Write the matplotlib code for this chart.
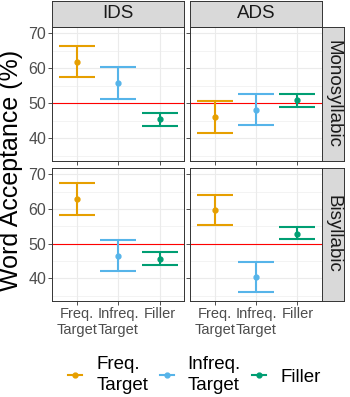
import matplotlib
matplotlib.use("Agg")
import matplotlib.pyplot as plt
from matplotlib.lines import Line2D
from matplotlib.patches import Rectangle
from matplotlib.ticker import MultipleLocator

plt.rcParams["font.family"] = ["Liberation Sans", "DejaVu Sans"]

# ---------------------------------------------------------------- data
conditions = ["Freq.\nTarget", "Infreq.\nTarget", "Filler"]
legend_labels = ["Freq.\nTarget", "Infreq.\nTarget", "Filler"]
speech = ["IDS", "ADS"]
syllables = ["Monosyllabic", "Bisyllabic"]

# [row = syllables][col = speech][condition]
means = [
    [[61.9, 55.7, 45.4], [46.1, 48.1, 51.0]],
    [[63.0, 46.5, 45.6], [59.7, 40.3, 52.9]],
]
lower = [
    [[57.4, 51.1, 43.5], [41.5, 43.7, 49.0]],
    [[58.3, 42.1, 43.8], [55.4, 36.0, 51.2]],
]
upper = [
    [[66.5, 60.5, 47.3], [50.6, 52.6, 52.8]],
    [[67.4, 51.1, 47.6], [64.0, 44.8, 54.8]],
]
chance = 50

COLORS = ["#E69F00", "#56B4E9", "#009E73"]
GRID = "#EBEBEB"
BORDER = "#333333"
STRIP = "#D9D9D9"

W, H = 350, 397


def rect(x0, y0, x1, y1):
    """pixel box (top-left origin) -> figure fraction"""
    return [x0 / W, 1 - y1 / H, (x1 - x0) / W, (y1 - y0) / H]


def strip_box(box, label, rot):
    sa = fig.add_axes(rect(*box))
    sa.add_patch(Rectangle((0, 0), 1, 1, facecolor=STRIP,
                           edgecolor="none", transform=sa.transAxes))
    sa.set_xticks([])
    sa.set_yticks([])
    for s in sa.spines.values():
        s.set_color(BORDER)
        s.set_linewidth(0.7)
    sa.text(0.5, 0.5, label, ha="center", va="center", rotation=rot,
            fontsize=13.5, color="#1A1A1A", transform=sa.transAxes)


fig = plt.figure(figsize=(W / 100, H / 100), dpi=100)

cols_px = [(52.3, 184.3), (190.0, 322.3)]
rows_px = [(26.7, 161.0), (167.7, 300.7)]

for r, (y0, y1) in enumerate(rows_px):
    for c, (x0, x1) in enumerate(cols_px):
        ax = fig.add_axes(rect(x0, y0, x1, y1))
        ax.set_xlim(0.4, 3.6)
        ax.set_ylim(33.5, 71.9)
        ax.yaxis.set_major_locator(MultipleLocator(10))
        ax.yaxis.set_minor_locator(MultipleLocator(5))
        ax.set_xticks([1, 2, 3])
        ax.grid(True, which="major", color=GRID, lw=0.8, zorder=0)
        ax.grid(True, which="minor", axis="y", color=GRID, lw=0.4, zorder=0)
        ax.set_axisbelow(True)
        for s in ax.spines.values():
            s.set_color(BORDER)
            s.set_linewidth(0.7)
        ax.tick_params(which="major", length=3, width=0.6, color=BORDER,
                       labelcolor="#4D4D4D", pad=1.5)
        ax.tick_params(which="minor", length=0)
        ax.tick_params(axis="y", labelsize=11.5)
        ax.tick_params(axis="x", labelsize=10.5)

        ax.axhline(chance, color="#FF0000", lw=0.8, zorder=1)
        for i in range(3):
            m = means[r][c][i]
            lo = lower[r][c][i]
            hi = upper[r][c][i]
            ax.errorbar(i + 1, m, yerr=[[m - lo], [hi - m]], fmt="o",
                        color=COLORS[i], ms=3.5, elinewidth=1.5,
                        capsize=13.3, capthick=1.5, zorder=3)

        if c == 0:
            ax.set_yticks([40, 50, 60, 70])
        else:
            ax.tick_params(axis="y", labelleft=False)
        if r == 1:
            ax.set_xticklabels(conditions, linespacing=1.15)
        else:
            ax.tick_params(axis="x", labelbottom=False)

        if r == 0:
            strip_box((x0, 1.0, x1, y0), speech[c], 0)

    strip_box((cols_px[1][1], y0, 343.5, y1), syllables[r], 270)

fig.text(11 / W, 1 - 170 / H, "Word Acceptance (%)", rotation=90,
         ha="center", va="center", fontsize=18)

handles = [Line2D([0], [0], color=col, marker="o", ms=3.5, lw=1.5)
           for col in COLORS]
leg = fig.legend(handles, legend_labels, loc="center", ncol=3, frameon=False,
                 bbox_to_anchor=(194.5 / W, 1 - 375 / H), fontsize=13.5,
                 handlelength=0.75, handletextpad=0.75, columnspacing=0.6)
for t in leg.get_texts():
    t.set_linespacing(1.3)

fig.savefig("out.png", dpi=100)
